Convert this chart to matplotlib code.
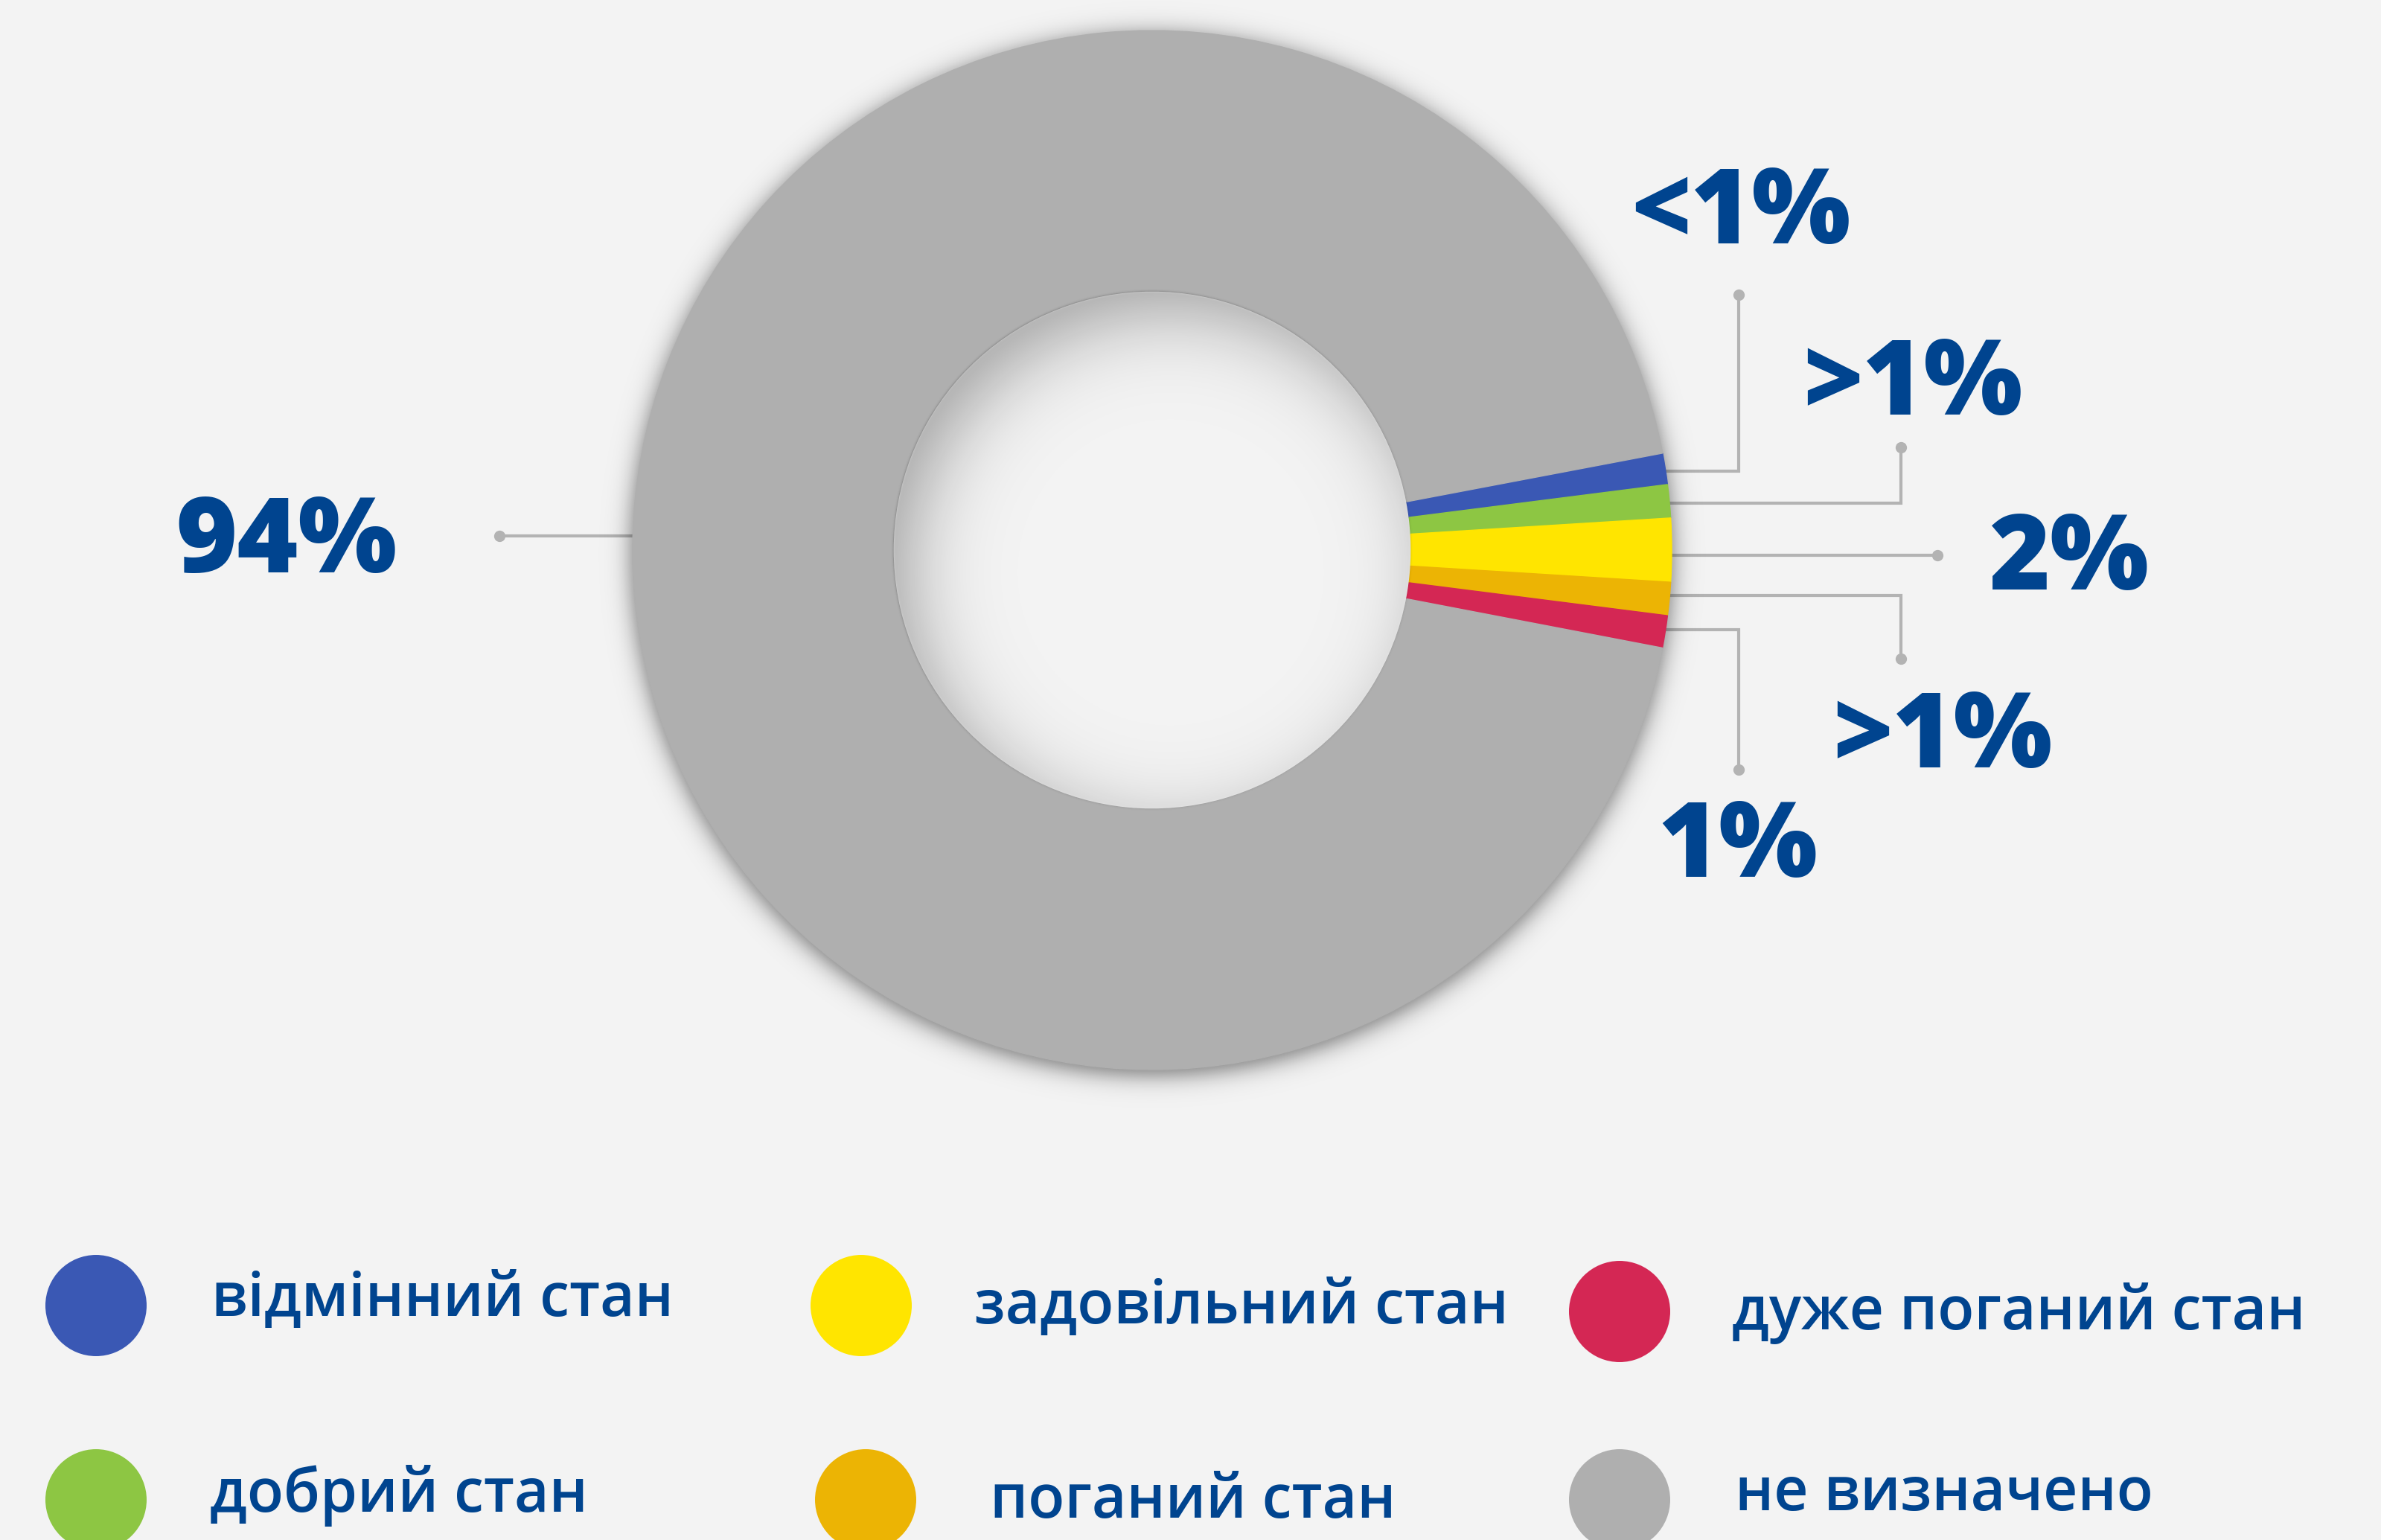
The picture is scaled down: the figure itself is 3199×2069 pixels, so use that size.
import numpy as np
import matplotlib.pyplot as plt
from matplotlib.patches import Circle

# розмір картинки в пікселях (1 одиниця даних = 1 піксель)
W, H = 3199, 2069
BG = '#f3f3f3'
TXT = '#00448f'
LINE = '#b3b3b3'

# дані
labels = ['відмінний стан', 'добрий стан', 'задовільний стан',
          'поганий стан', 'дуже поганий стан', 'не визначено']
values = [0.97, 1.03, 1.97, 1.03, 1.0, 94.0]
pct_labels = ['<1%', '>1%', '2%', '>1%', '1%', '94%']
colors = ['#3a58b4', '#8dc643', '#ffe500', '#ecb404', '#d42754', '#afafaf']

plt.rcParams['font.family'] = ['Open Sans', 'DejaVu Sans']

fig = plt.figure(figsize=(W / 100, H / 100), dpi=100, facecolor=BG)
ax = fig.add_axes([0, 0, 1, 1])
ax.set_facecolor(BG)

# геометрія кільця (y вниз у пікселях картинки)
cx, cy = 1548, 739
R, r_in = 698, 348

# кільце: жовтий сектор по центру праворуч
start = (sum(values[:2]) + values[2] / 2) / sum(values) * 360
wedges, _ = ax.pie(values, colors=colors, startangle=start, counterclock=False,
                   radius=R, center=(cx, H - cy),
                   wedgeprops=dict(width=R - r_in, linewidth=1))
for w in wedges:
    w.set_edgecolor(w.get_facecolor())
    w.set_zorder(2)

# тіні: зовнішня під кільцем, внутрішня в отворі
x0, x1, y0, y1 = 700, 2400, 0, 1500
xs = np.arange(x0, x1, dtype=np.float32) + 0.5
ys = np.arange(y0, y1, dtype=np.float32) + 0.5
X, Y = np.meshgrid(xs, ys)
with np.errstate(over='ignore'):
    d0 = np.hypot(X - cx, Y - cy)
    d_out = np.hypot(X - cx, Y - (cy + 6))
    a_out = 0.5 / (1 + np.exp((d_out - R - 2) / 9))
    a_out = a_out * (d0 > r_in + 20)
    ds = np.hypot(X - (cx + 25), Y - (cy + 30))
    a_in = 0.34 / (1 + np.exp((r_in - ds) / 32)) / (1 + np.exp((d0 - r_in) / 0.8))
ext = (x0, x1, H - y1, H - y0)
img = np.zeros((y1 - y0, x1 - x0, 4), dtype=np.float32)
img[..., 3] = a_out
ax.imshow(img, extent=ext, origin='upper', zorder=1, interpolation='nearest')
img2 = np.zeros_like(img)
img2[..., 3] = a_in
ax.imshow(img2, extent=ext, origin='upper', zorder=3, interpolation='nearest')

# виноски: висота лінії, x зламу, y точки (None = пряма), центр підпису
line_y = [633, 676, 746, 800, 846, 720]
elbow_x = [2336, 2554, 2603, 2554, 2336, 671]
dot_y = [396, 601, None, 885, 1034, None]
lab_pos = [(2339, 327), (2570, 557), (2780, 792), (2610, 1031), (2335, 1178), (385, 769)]

for i, w in enumerate(wedges):
    ly = line_y[i]
    side = 1 if elbow_x[i] > cx else -1
    sx = cx + side * np.sqrt(R ** 2 - (ly - cy) ** 2)
    px = [sx, elbow_x[i]]
    py = [ly, ly]
    if dot_y[i] is not None:
        px.append(elbow_x[i])
        py.append(dot_y[i])
    ax.plot(px, [H - v for v in py], color=LINE, lw=3, zorder=0.8,
            solid_joinstyle='miter')
    ax.plot(px[-1], H - py[-1], 'o', color=LINE, ms=11, mec='none', zorder=0.8)
    tx, tb = lab_pos[i]
    ax.text(tx, H - tb, pct_labels[i], color=TXT, fontsize=101, fontweight=800,
            ha='center', va='baseline', zorder=4)

# легенда
circ_pos = [(129, 1754), (129, 2015), (1157, 1754), (1163, 2015), (2176, 1762), (2176, 2015)]
txt_pos = [(284, 1768), (282, 2031), (1309, 1778), (1330, 2039), (2327, 1786), (2331, 2029)]
for i, lab in enumerate(labels):
    ccx, ccy = circ_pos[i]
    ax.add_patch(Circle((ccx, H - ccy), 68, color=colors[i], lw=0, zorder=2))
    tx, tb = txt_pos[i]
    ax.text(tx, H - tb, lab, color=TXT, fontsize=58, fontweight=600,
            ha='left', va='baseline', zorder=4)

ax.set_xlim(0, W)
ax.set_ylim(0, H)
ax.set_aspect('equal')
ax.axis('off')

fig.savefig('out.png', dpi=100, facecolor=BG)
